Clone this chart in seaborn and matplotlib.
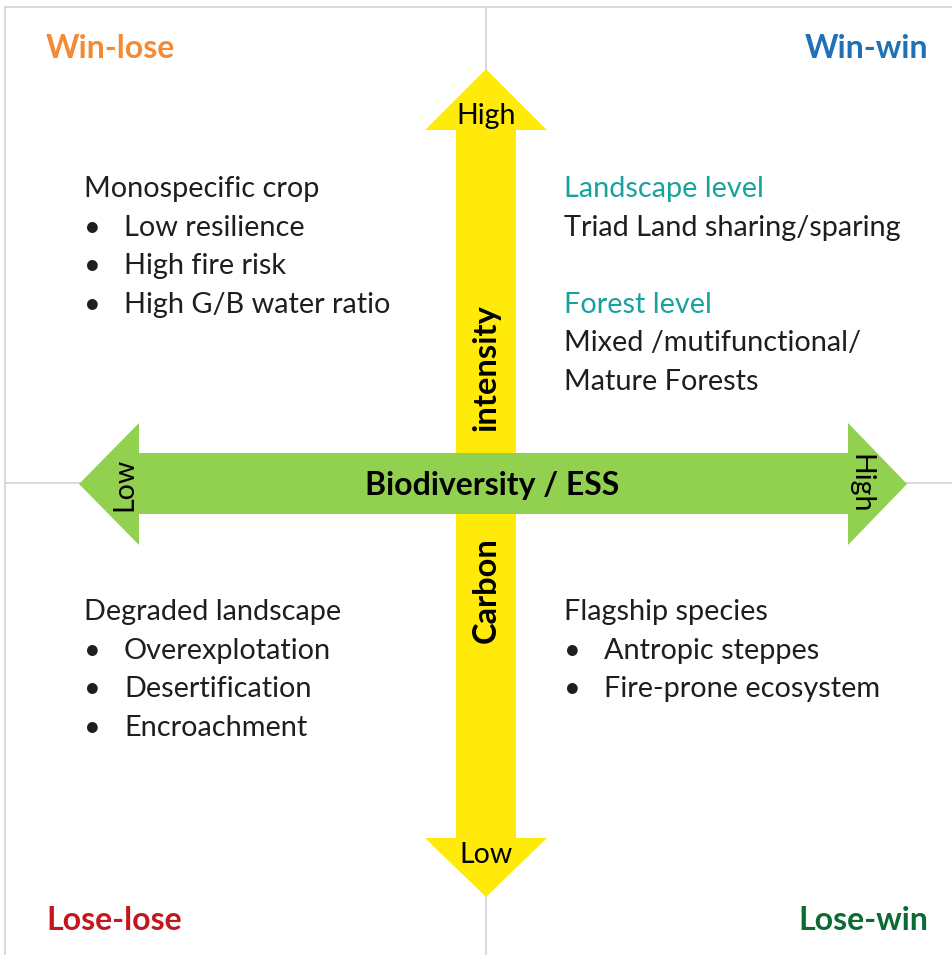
import numpy as np
import pandas as pd
import matplotlib
matplotlib.use("Agg")
import matplotlib.pyplot as plt
from matplotlib.patches import Polygon
import seaborn as sns

# quadrant corner labels
corner_labels = ["Win-lose", "Win-win", "Lose-lose", "Lose-win"]
corner_colors = ["#F58A35", "#2070B8", "#C4161C", "#0B6B33"]

# quadrant contents
win_lose_title = "Monospecific crop"
win_lose_items = ["Low resilience", "High fire risk", "High G/B water ratio"]
win_win_lines = [("Landscape level", "teal"), ("Triad Land sharing/sparing", "text"),
                 ("", "text"), ("Forest level", "teal"),
                 ("Mixed /mutifunctional/", "text"), ("Mature Forests", "text")]
lose_lose_title = "Degraded landscape"
lose_lose_items = ["Overexplotation", "Desertification", "Encroachment"]
lose_win_title = "Flagship species"
lose_win_items = ["Antropic steppes", "Fire-prone ecosystem"]

# axis arrows
x_axis_label = "Biodiversity / ESS"
x_ends = ["Low", "High"]
y_axis_words = ["intensity", "Carbon"]
y_ends = ["High", "Low"]

TEXT = "#1E1E1E"
TEAL = "#17A29E"
YELLOW = "#FFEA0A"
GREEN = "#92D050"
GRID = "#D3D3D3"

sns.set_theme(style="white")
plt.rcParams["font.family"] = ["Lato", "DejaVu Sans"]

fig = plt.figure(figsize=(9.52, 9.55), dpi=100)
ax = fig.add_axes([0, 0, 1, 1])
ax.set_xlim(0, 952)
ax.set_ylim(955, 0)
ax.axis("off")

# frame and quadrant dividers
ax.plot([5, 5, 952], [955, 7, 7], color=GRID, lw=1.2)
ax.plot([486, 486], [7, 955], color=GRID, lw=1.2)
ax.plot([5, 952], [483, 483], color=GRID, lw=1.2)

# vertical (carbon) arrow
cx = 486
v_arrow = [(cx - 30, 130), (cx - 61, 130), (cx, 69), (cx + 61, 130), (cx + 30, 130),
           (cx + 30, 838), (cx + 61, 838), (cx, 897), (cx - 61, 838), (cx - 30, 838)]
ax.add_patch(Polygon(v_arrow, closed=True, facecolor=YELLOW, edgecolor="none", zorder=3))

# horizontal (biodiversity) arrow
cy = 484
h_arrow = [(139, cy - 31), (139, cy - 61), (79, cy), (139, cy + 61), (139, cy + 30),
           (848, cy + 30), (848, cy + 61), (907, cy), (848, cy - 61), (848, cy - 31)]
ax.add_patch(Polygon(h_arrow, closed=True, facecolor=GREEN, edgecolor="none", zorder=4))

# arrow labels
END_FS = 20.5
ax.text(cx, 116, y_ends[0], ha="center", va="center", fontsize=END_FS, color="black", zorder=5)
ax.text(cx, 855, y_ends[1], ha="center", va="center", fontsize=END_FS, color="black", zorder=5)
ax.text(cx, 368, y_axis_words[0], ha="center", va="center", rotation=90,
        fontsize=23.5, fontweight="bold", color="black", zorder=5)
ax.text(cx, 590, y_axis_words[1], ha="center", va="center", rotation=90,
        fontsize=23.5, fontweight="bold", color="black", zorder=5)
ax.text(492, cy + 1, x_axis_label, ha="center", va="center",
        fontsize=23, fontweight="bold", color="black", zorder=5)
ax.text(124, cy, x_ends[0], ha="center", va="center", rotation=90,
        fontsize=END_FS, color="black", zorder=5)
ax.text(860, cy, x_ends[1], ha="center", va="center", rotation=270,
        fontsize=END_FS, color="black", zorder=5)

# corner labels
corner_pos = [(46, 49, "left"), (928, 49, "right"), (46, 920, "left"), (928, 920, "right")]
for lab, col, (x, y, ha) in zip(corner_labels, corner_colors, corner_pos):
    ax.text(x, y, lab, ha=ha, va="center", fontsize=23, fontweight="bold", color=col)

step = 38.6
FS = 20.8


def bullet_block(x, y0, title, items):
    ax.text(x, y0, title, ha="left", va="center", fontsize=FS, color=TEXT)
    for i, item in enumerate(items):
        y = y0 + step * (i + 1)
        ax.text(x + 8, y, "\u2022", ha="center", va="center", fontsize=FS, color=TEXT)
        ax.text(x + 40, y, item, ha="left", va="center", fontsize=FS, color=TEXT)


bullet_block(84, 189, win_lose_title, win_lose_items)
bullet_block(84, 612, lose_lose_title, lose_lose_items)
bullet_block(564, 612, lose_win_title, lose_win_items)

for i, (line, kind) in enumerate(win_win_lines):
    if line:
        ax.text(564, 189 + step * i, line, ha="left", va="center", fontsize=FS,
                color=TEAL if kind == "teal" else TEXT)

fig.savefig("out.png", dpi=100, facecolor="white")
